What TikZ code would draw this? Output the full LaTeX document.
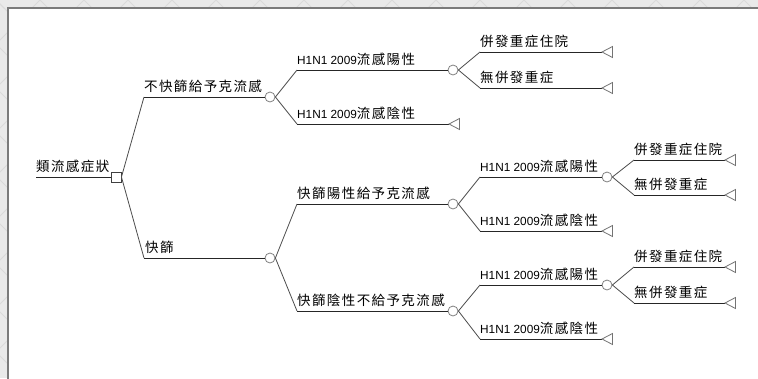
\documentclass[tikz,border=0pt]{standalone}
\usepackage{fontspec}
\setmainfont{Liberation Sans}
\newfontfamily\cjk{Noto Sans CJK TC}
\def\zhsp#1{\ifx\relax#1\else#1\kern1.4pt\expandafter\zhsp\fi}
\newcommand\zh[1]{{\cjk\fontsize{13.5}{15}\selectfont\zhsp#1\relax}}
\newcommand\lat[1]{{\fontsize{11.8}{14}\selectfont #1}}
\definecolor{bandgray}{HTML}{E9E9E9}
\definecolor{patgray}{HTML}{DADADA}
\definecolor{edgegray}{HTML}{7A7A7A}
\tikzset{
  hline/.style={draw=black!85, line width=0.9pt},
  dline/.style={draw=black!70, line width=0.8pt},
  chance/.style={circle, draw=black!50, fill=white, minimum size=10pt, inner sep=0pt, line width=0.8pt},
  dec/.style={rectangle, draw=black!75, fill=white, minimum size=10pt, inner sep=0pt, line width=0.9pt},
  lab/.style={anchor=base west, inner sep=0pt, text=black},
  termtri/.style={draw=black!55, line width=0.8pt, line join=miter},
  pat/.style={draw=patgray, line width=1pt}
}
\begin{document}
\begin{tikzpicture}[x=1pt,y=-1pt]
\useasboundingbox (0,0) rectangle (758,378);
% background band with lattice
\fill[bandgray] (0,0) rectangle (758,378);
\begin{scope}
\clip (0,0) rectangle (758,8.5);
\foreach \i in {-400,-356,...,1200} {
  \draw[pat] (\i,0) -- ++(400,400);
  \draw[pat] (\i,0) -- ++(-400,400);
}
\end{scope}
\begin{scope}
\clip (0,0) rectangle (8.5,378);
\foreach \i in {-400,-356,...,1200} {
  \draw[pat] (\i,0) -- ++(400,400);
  \draw[pat] (\i,0) -- ++(-400,400);
}
\end{scope}
\fill[white] (8,8) rectangle (762,382);
\draw[edgegray, line width=1.5pt] (8,382) -- (8,8) -- (762,8);

% root
\coordinate (r0) at (36,177);
\node[dec] (d0) at (116,177) {};
\draw[hline] (r0) -- (d0.west);
\node[lab] (l0) at ([yshift=5.5pt]r0) {\zh{類流感症狀}};

% branch A
\coordinate (sA) at (144,97);
\node[chance] (cA) at (270,97) {};
\draw[dline] (d0.east) -- (sA);
\draw[hline] (sA) -- (cA.west);
\node[lab] (lA) at ([yshift=5.5pt]sA) {\zh{不快篩給予克流感}};

% A1
\coordinate (sA1) at (297,70);
\node[chance] (cA1) at (453,70) {};
\draw[dline] (cA.east) -- (sA1);
\draw[hline] (sA1) -- (cA1.west);
\node[lab] (lA1) at ([yshift=5.5pt]sA1) {\lat{H1N1 2009}\zh{流感陽性}};

% A1 leaves
\coordinate (sA1a) at (480,52);
\coordinate (tA1a) at (602,52);
\draw[dline] (cA1.east) -- (sA1a);
\draw[hline] (sA1a) -- (tA1a);
\draw[termtri] (tA1a) -- ++(10.5,-5.5) -- ++(0,11) -- cycle;
\node[lab] (lA1a) at ([yshift=5.5pt]sA1a) {\zh{併發重症住院}};

\coordinate (sA1b) at (480,88);
\coordinate (tA1b) at (602,88);
\draw[dline] (cA1.east) -- (sA1b);
\draw[hline] (sA1b) -- (tA1b);
\draw[termtri] (tA1b) -- ++(10.5,-5.5) -- ++(0,11) -- cycle;
\node[lab] (lA1b) at ([yshift=5.5pt]sA1b) {\zh{無併發重症}};

% A2
\coordinate (sA2) at (297,124);
\coordinate (tA2) at (449,124);
\draw[dline] (cA.east) -- (sA2);
\draw[hline] (sA2) -- (tA2);
\draw[termtri] (tA2) -- ++(10.5,-5.5) -- ++(0,11) -- cycle;
\node[lab] (lA2) at ([yshift=5.5pt]sA2) {\lat{H1N1 2009}\zh{流感陰性}};

% branch B
\coordinate (sB) at (144,258);
\node[chance] (cB) at (270,258) {};
\draw[dline] (d0.east) -- (sB);
\draw[hline] (sB) -- (cB.west);
\node[lab] (lB) at ([yshift=5.5pt,xshift=1pt]sB) {\zh{快篩}};

% B1
\coordinate (sB1) at (297,204);
\node[chance] (cB1) at (453,204) {};
\draw[dline] (cB.east) -- (sB1);
\draw[hline] (sB1) -- (cB1.west);
\node[lab] (lB1) at ([yshift=5.5pt]sB1) {\zh{快篩陽性給予克流感}};

% B1a
\coordinate (sB1a) at (480,177);
\node[chance] (cB1a) at (607,177) {};
\draw[dline] (cB1.east) -- (sB1a);
\draw[hline] (sB1a) -- (cB1a.west);
\node[lab] (lB1a) at ([yshift=5.5pt]sB1a) {\lat{H1N1 2009}\zh{流感陽性}};

\coordinate (sB1a1) at (634,160);
\coordinate (tB1a1) at (725,160);
\draw[dline] (cB1a.east) -- (sB1a1);
\draw[hline] (sB1a1) -- (tB1a1);
\draw[termtri] (tB1a1) -- ++(10.5,-5.5) -- ++(0,11) -- cycle;
\node[lab] (lB1a1) at ([yshift=5.5pt]sB1a1) {\zh{併發重症住院}};

\coordinate (sB1a2) at (634,195);
\coordinate (tB1a2) at (725,195);
\draw[dline] (cB1a.east) -- (sB1a2);
\draw[hline] (sB1a2) -- (tB1a2);
\draw[termtri] (tB1a2) -- ++(10.5,-5.5) -- ++(0,11) -- cycle;
\node[lab] (lB1a2) at ([yshift=5.5pt]sB1a2) {\zh{無併發重症}};

% B1b
\coordinate (sB1b) at (480,231);
\coordinate (tB1b) at (602,231);
\draw[dline] (cB1.east) -- (sB1b);
\draw[hline] (sB1b) -- (tB1b);
\draw[termtri] (tB1b) -- ++(10.5,-5.5) -- ++(0,11) -- cycle;
\node[lab] (lB1b) at ([yshift=5.5pt]sB1b) {\lat{H1N1 2009}\zh{流感陰性}};

% B2
\coordinate (sB2) at (297,311);
\node[chance] (cB2) at (453,311) {};
\draw[dline] (cB.east) -- (sB2);
\draw[hline] (sB2) -- (cB2.west);
\node[lab] (lB2) at ([yshift=5.5pt]sB2) {\zh{快篩陰性不給予克流感}};

% B2a
\coordinate (sB2a) at (480,285);
\node[chance] (cB2a) at (607,285) {};
\draw[dline] (cB2.east) -- (sB2a);
\draw[hline] (sB2a) -- (cB2a.west);
\node[lab] (lB2a) at ([yshift=5.5pt]sB2a) {\lat{H1N1 2009}\zh{流感陽性}};

\coordinate (sB2a1) at (634,267);
\coordinate (tB2a1) at (725,267);
\draw[dline] (cB2a.east) -- (sB2a1);
\draw[hline] (sB2a1) -- (tB2a1);
\draw[termtri] (tB2a1) -- ++(10.5,-5.5) -- ++(0,11) -- cycle;
\node[lab] (lB2a1) at ([yshift=5.5pt]sB2a1) {\zh{併發重症住院}};

\coordinate (sB2a2) at (634,303);
\coordinate (tB2a2) at (725,303);
\draw[dline] (cB2a.east) -- (sB2a2);
\draw[hline] (sB2a2) -- (tB2a2);
\draw[termtri] (tB2a2) -- ++(10.5,-5.5) -- ++(0,11) -- cycle;
\node[lab] (lB2a2) at ([yshift=5.5pt]sB2a2) {\zh{無併發重症}};

% B2b
\coordinate (sB2b) at (480,339);
\coordinate (tB2b) at (602,339);
\draw[dline] (cB2.east) -- (sB2b);
\draw[hline] (sB2b) -- (tB2b);
\draw[termtri] (tB2b) -- ++(10.5,-5.5) -- ++(0,11) -- cycle;
\node[lab] (lB2b) at ([yshift=5.5pt]sB2b) {\lat{H1N1 2009}\zh{流感陰性}};
\end{tikzpicture}
\end{document}
